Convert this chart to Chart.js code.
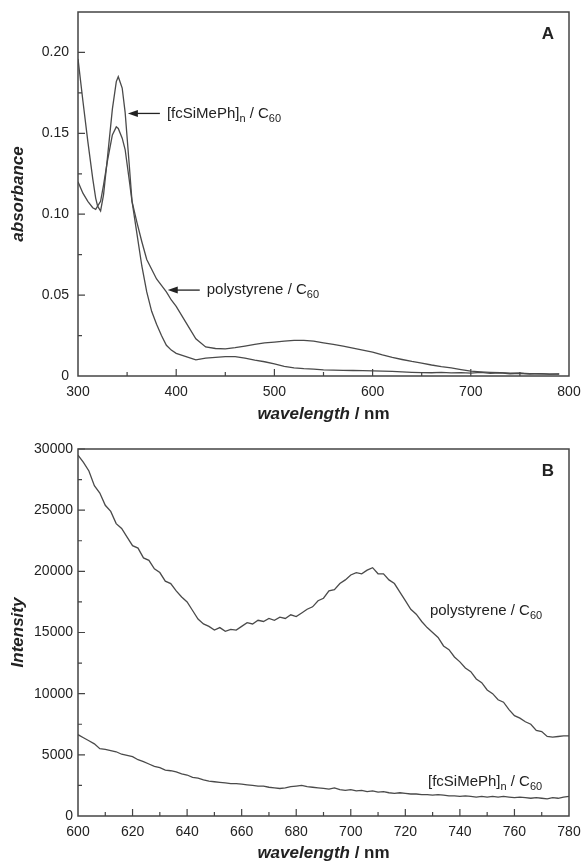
<!DOCTYPE html>
<html lang="en">
<head>
  <meta charset="UTF-8" />
  <title>Absorbance and emission of C60 films</title>
  <script src="https://cdn.jsdelivr.net/npm/chart.js@4"></script>
  <style>
    body { margin: 0; background: #fff; }
    .wrap { position: relative; width: 582px; height: 863px; }
    canvas { position: absolute; left: 0; }
    #chartA { top: 0; }
    #chartB { top: 428px; }
  </style>
</head>
<body>
  <div class="wrap">
    <canvas id="chartA" width="582" height="428"></canvas>
    <canvas id="chartB" width="582" height="435"></canvas>
  </div>

  <script>
    // --- panel A: absorbance ---
    const absWavelength = [300, 305, 310, 315, 318, 320, 323, 326, 330, 335, 339, 341, 345, 348, 352, 355, 360, 365, 370, 375,
      380, 385, 390, 395, 400, 410, 420, 430, 440, 450, 460, 470, 480, 490, 500, 510, 520, 530, 540, 550,
      560, 570, 580, 590, 600, 610, 620, 630, 640, 650, 660, 670, 680, 690, 700, 710, 720, 730, 740, 750,
      760, 770, 780, 790];
    const absFcSi = [0.196, 0.170, 0.145, 0.122, 0.110, 0.105, 0.102, 0.112, 0.135, 0.165, 0.182, 0.185, 0.178, 0.163, 0.132, 0.108, 0.088, 0.068, 0.052, 0.040,
      0.032, 0.025, 0.019, 0.016, 0.014, 0.012, 0.010, 0.011, 0.0115, 0.012, 0.012, 0.011, 0.0098, 0.0088, 0.0075, 0.006, 0.005, 0.0045, 0.0042, 0.0038,
      0.0036, 0.0035, 0.0034, 0.0033, 0.0032, 0.003, 0.0028, 0.0025, 0.0023, 0.0021, 0.002, 0.0022, 0.0019, 0.0021, 0.0018, 0.0022, 0.0016, 0.0019, 0.0014, 0.0017,
      0.0012, 0.0015, 0.0011, 0.0013];
    const absPolystyrene = [0.120, 0.113, 0.108, 0.104, 0.103, 0.105, 0.108, 0.118, 0.133, 0.149, 0.154, 0.153, 0.147, 0.140, 0.122, 0.108, 0.095, 0.083, 0.072, 0.066,
      0.060, 0.056, 0.052, 0.047, 0.043, 0.033, 0.023, 0.018, 0.017, 0.0168, 0.0175, 0.0185, 0.0195, 0.0205, 0.021, 0.0215, 0.022, 0.022, 0.0215, 0.0205,
      0.0195, 0.0185, 0.0172, 0.016, 0.0148, 0.013, 0.0115, 0.0102, 0.009, 0.008, 0.0068, 0.0058, 0.005, 0.004, 0.003, 0.0026, 0.0023, 0.0021, 0.0018, 0.0017,
      0.0015, 0.0014, 0.0012, 0.0011];

    // --- panel B: emission intensity, every 2 nm from 600 to 780 ---
    const emWavelength = [];
    for (let w = 600; w <= 780; w += 2) emWavelength.push(w);
    const emPolystyrene = [29500, 28900, 28200, 27000, 26400, 25400, 24900, 23900, 23500, 22800,
      22100, 21900, 21100, 20900, 20200, 19900, 19200, 19000, 18400, 17900,
      17500, 16800, 16100, 15700, 15500, 15200, 15400, 15100, 15250, 15200,
      15500, 15800, 15700, 16000, 15900, 16150, 16000, 16250, 16150, 16450,
      16300, 16600, 16900, 17100, 17600, 17800, 18400, 18500, 19000, 19300,
      19700, 19900, 19800, 20100, 20300, 19800, 19800, 19300, 19000, 18300,
      17600, 16900, 16500, 15900, 15400, 15000, 14600, 13900, 13600, 13000,
      12600, 12100, 11800, 11200, 10900, 10300, 10000, 9500, 9300, 8700,
      8200, 8000, 7700, 7500, 7000, 6900, 6500, 6450, 6500, 6550, 6550];
    const emFcSi = [6650, 6400, 6150, 5900, 5500, 5450, 5350, 5250, 5050, 4950,
      4850, 4600, 4450, 4250, 4050, 3950, 3750, 3700, 3600, 3450,
      3350, 3150, 3100, 2950, 2850, 2800, 2750, 2700, 2650, 2650,
      2600, 2550, 2500, 2450, 2450, 2350, 2300, 2250, 2300, 2400,
      2450, 2500, 2400, 2350, 2300, 2250, 2200, 2300, 2150, 2100,
      2150, 2050, 2100, 2000, 2050, 1950, 2000, 1900, 1850, 1900,
      1850, 1800, 1800, 1750, 1750, 1700, 1750, 1700, 1650, 1650,
      1600, 1650, 1600, 1550, 1600, 1550, 1600, 1550, 1600, 1550,
      1500, 1550, 1500, 1450, 1500, 1450, 1400, 1500, 1450, 1550, 1600];

    const LINE = '#4a4a4a';
    const TEXT = '#222';

    const toPoints = (xs, ys) => xs.map((x, i) => ({ x: x, y: ys[i] }));

    // draws a string made of pieces, some of them subscript
    function drawRich(ctx, parts, x, y, size, align) {
      const widths = parts.map(p => {
        ctx.font = (p.style || '') + ' ' + (p.sub ? Math.round(size * 0.72) : size) + 'px "Liberation Sans", Arial, sans-serif';
        return ctx.measureText(p.t).width;
      });
      const total = widths.reduce((a, b) => a + b, 0);
      let cx = align === 'center' ? x - total / 2 : x;
      ctx.textBaseline = 'middle';
      ctx.textAlign = 'left';
      parts.forEach((p, i) => {
        ctx.font = (p.style || '') + ' ' + (p.sub ? Math.round(size * 0.72) : size) + 'px "Liberation Sans", Arial, sans-serif';
        ctx.fillText(p.t, cx, p.sub ? y + size * 0.35 : y);
        cx += widths[i];
      });
    }

    // frame, inward ticks, x title, panel letter and curve labels
    const decorations = {
      id: 'decorations',
      afterDatasetsDraw(chart, args, o) {
        const { ctx, chartArea: a, scales: { x, y } } = chart;
        ctx.save();
        ctx.strokeStyle = '#444';
        ctx.lineWidth = 1.5;
        ctx.strokeRect(a.left, a.top, a.right - a.left, a.bottom - a.top);

        ctx.lineWidth = 1.2;
        ctx.beginPath();
        const nx = Math.round((x.max - x.min) / o.xMinor);
        for (let i = 1; i < nx; i++) {
          const px = x.getPixelForValue(x.min + i * o.xMinor);
          const len = i % o.xEvery === 0 ? 7 : 4;
          ctx.moveTo(px, a.bottom);
          ctx.lineTo(px, a.bottom - len);
        }
        const ny = Math.round((o.yTop - y.min) / o.yMinor);
        for (let i = 1; i <= ny; i++) {
          const py = y.getPixelForValue(y.min + i * o.yMinor);
          const len = i % o.yEvery === 0 ? 7 : 4;
          ctx.moveTo(a.left, py);
          ctx.lineTo(a.left + len, py);
        }
        ctx.stroke();

        ctx.fillStyle = TEXT;
        drawRich(ctx, [{ t: 'wavelength', style: 'italic bold' }, { t: ' / nm', style: 'bold' }],
          (a.left + a.right) / 2, a.bottom + o.titleGap, 17, 'center');

        drawRich(ctx, [{ t: o.letter, style: 'bold' }], a.right - 21, a.top + 22, 17, 'center');

        o.labels.forEach(l => {
          const px = x.getPixelForValue(l.x);
          const py = y.getPixelForValue(l.y);
          let tx = px;
          if (l.arrow) {
            ctx.strokeStyle = '#222';
            ctx.lineWidth = 1.3;
            ctx.beginPath();
            ctx.moveTo(px + 4, py);
            ctx.lineTo(px + 32, py);
            ctx.stroke();
            ctx.beginPath();
            ctx.moveTo(px, py);
            ctx.lineTo(px + 10, py - 3.5);
            ctx.lineTo(px + 10, py + 3.5);
            ctx.closePath();
            ctx.fill();
            tx = px + 39;
          }
          drawRich(ctx, [{ t: l.text }, { t: l.sub1, sub: true }, { t: l.mid }, { t: '60', sub: true }].filter(p => p.t),
            tx, py, 15, 'left');
        });
        ctx.restore();
      }
    };

    function makeChart(id, opts) {
      return new Chart(document.getElementById(id).getContext('2d'), {
        type: 'line',
        data: {
          datasets: opts.series.map(s => ({
            data: s,
            borderColor: LINE,
            borderWidth: 1.3,
            pointRadius: 0,
            tension: 0,
            fill: false
          }))
        },
        options: {
          responsive: false,
          animation: false,
          devicePixelRatio: 1,
          layout: { padding: { left: 0, right: 13, top: opts.top, bottom: 0 } },
          scales: {
            x: {
              type: 'linear',
              min: opts.xMin,
              max: opts.xMax,
              afterFit: s => {
                s.height = opts.xHeight;
                s.paddingLeft = 0;
                s.paddingRight = 0;
              },
              grid: { display: false, drawTicks: false },
              border: { display: false },
              ticks: {
                stepSize: opts.xStep,
                autoSkip: false,
                maxRotation: 0,
                padding: 8,
                color: TEXT,
                font: { family: '"Liberation Sans", Arial, sans-serif', size: 14 }
              }
            },
            y: {
              min: 0,
              max: opts.yMax,
              afterFit: s => {
                s.width = 78;
                s.paddingTop = 0;
                s.paddingBottom = 0;
              },
              afterBuildTicks: s => { s.ticks = s.ticks.filter(t => t.value <= opts.yTop + 1e-9); },
              grid: { display: false, drawTicks: false },
              border: { display: false },
              title: {
                display: true,
                text: opts.yTitle,
                color: TEXT,
                padding: { top: 8, bottom: 4 },
                font: { family: '"Liberation Sans", Arial, sans-serif', size: 17, weight: 'bold', style: 'italic' }
              },
              ticks: {
                stepSize: opts.yStep,
                autoSkip: false,
                padding: opts.yPad,
                color: TEXT,
                font: { family: '"Liberation Sans", Arial, sans-serif', size: 14 },
                callback: opts.yFormat
              }
            }
          },
          plugins: {
            legend: { display: false },
            tooltip: { enabled: false },
            decorations: {
              xMinor: opts.xStep / 2, xEvery: 2,
              yMinor: opts.yStep / 2, yEvery: 2, yTop: opts.yTop,
              titleGap: opts.titleGap,
              letter: opts.letter,
              labels: opts.labels
            }
          }
        },
        plugins: [decorations]
      });
    }

    makeChart('chartA', {
      series: [toPoints(absWavelength, absFcSi), toPoints(absWavelength, absPolystyrene)],
      top: 12, xHeight: 52, titleGap: 38,
      xMin: 300, xMax: 800, xStep: 100,
      yMax: 0.225, yTop: 0.2, yStep: 0.05, yPad: 9,
      yTitle: 'absorbance',
      yFormat: v => v === 0 ? '0' : v.toFixed(2),
      letter: 'A',
      labels: [
        { x: 350.8, y: 0.1623, arrow: true, text: '[fcSiMePh]', sub1: 'n', mid: ' / C' },
        { x: 391.4, y: 0.0531, arrow: true, text: 'polystyrene / C' }
      ]
    });

    makeChart('chartB', {
      series: [toPoints(emWavelength, emPolystyrene), toPoints(emWavelength, emFcSi)],
      top: 21, xHeight: 47, titleGap: 37,
      xMin: 600, xMax: 780, xStep: 20,
      yMax: 30000, yTop: 30000, yStep: 5000, yPad: 5,
      yTitle: 'Intensity',
      yFormat: v => String(v),
      letter: 'B',
      labels: [
        { x: 729, y: 16760, text: 'polystyrene / C' },
        { x: 728.3, y: 2780, text: '[fcSiMePh]', sub1: 'n', mid: ' / C' }
      ]
    });
  </script>
</body>
</html>
